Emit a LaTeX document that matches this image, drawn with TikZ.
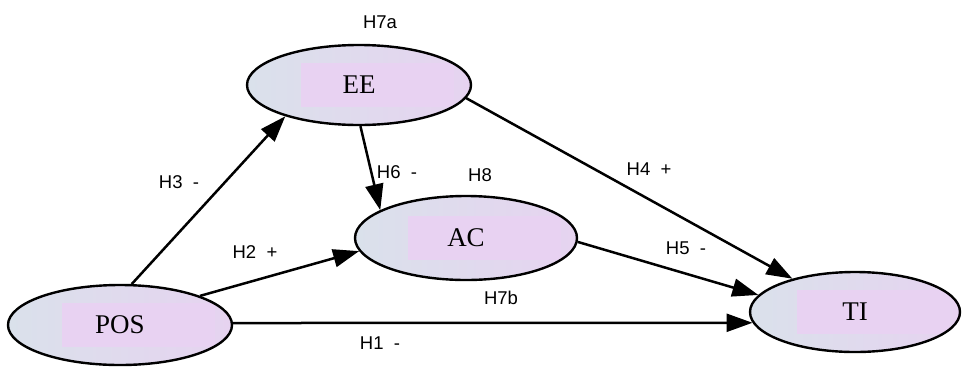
\documentclass[tikz,border=0pt]{standalone}
\usepackage{fontspec}
\setmainfont{Liberation Serif}
\newfontfamily\labfont{Liberation Sans}
\usetikzlibrary{shapes.geometric,arrows.meta}
\definecolor{cleft}{HTML}{DAE1EB}
\definecolor{cright}{HTML}{E6D3F0}
\definecolor{cinner}{HTML}{E8D2F2}
\begin{document}
\begin{tikzpicture}[x=1pt,y=-1pt,
  construct/.style={ellipse, draw=black, line width=2.4pt, inner sep=0pt,
    left color=cleft, right color=cright,
    font=\fontsize{27}{29}\selectfont,
    path picture={\fill[cinner] ([xshift=-58pt,yshift=-22pt]path picture bounding box.center) rectangle ([xshift=95pt,yshift=22pt]path picture bounding box.center);}},
  hyp/.style={font=\labfont\fontsize{18.5}{20}\selectfont, inner sep=0pt},
  link/.style={line width=2.5pt, -{Triangle[length=26pt,width=18pt]}}]
\useasboundingbox (0,0) rectangle (965,367);

\node[construct, minimum width=224pt, minimum height=80pt] (EE) at (359,85) {EE};
\node[construct, minimum width=222pt, minimum height=84pt] (AC) at (466,238) {AC};
\node[construct, minimum width=224pt, minimum height=80pt] (POS) at (120,325) {POS};
\node[construct, minimum width=210pt, minimum height=80pt] (TI) at (855,312) {TI};

\draw[link] (POS.74) -- (EE.203);
\draw[link] (POS.20) -- (AC.187);
\draw[link] (POS.1) -- (TI.186);
\draw[link] (EE.272) -- (AC.162);
\draw[link] (EE.353) -- (TI.152);
\draw[link] (AC.358) -- (TI.170);

\node[hyp] (h7a) at (380,22) {H7a};
\node[hyp] (h3) at (179,182) {H3~~-};
\node[hyp] (h2) at (255,252) {H2~~+};
\node[hyp] (h6) at (397,172) {H6~~-};
\node[hyp] (h8) at (480,175) {H8};
\node[hyp] (h4) at (649,169) {H4~~+};
\node[hyp] (h5) at (686,248) {H5~~-};
\node[hyp] (h7b) at (501,298) {H7b};
\node[hyp] (h1) at (380,343) {H1~~-};
\end{tikzpicture}
\end{document}
